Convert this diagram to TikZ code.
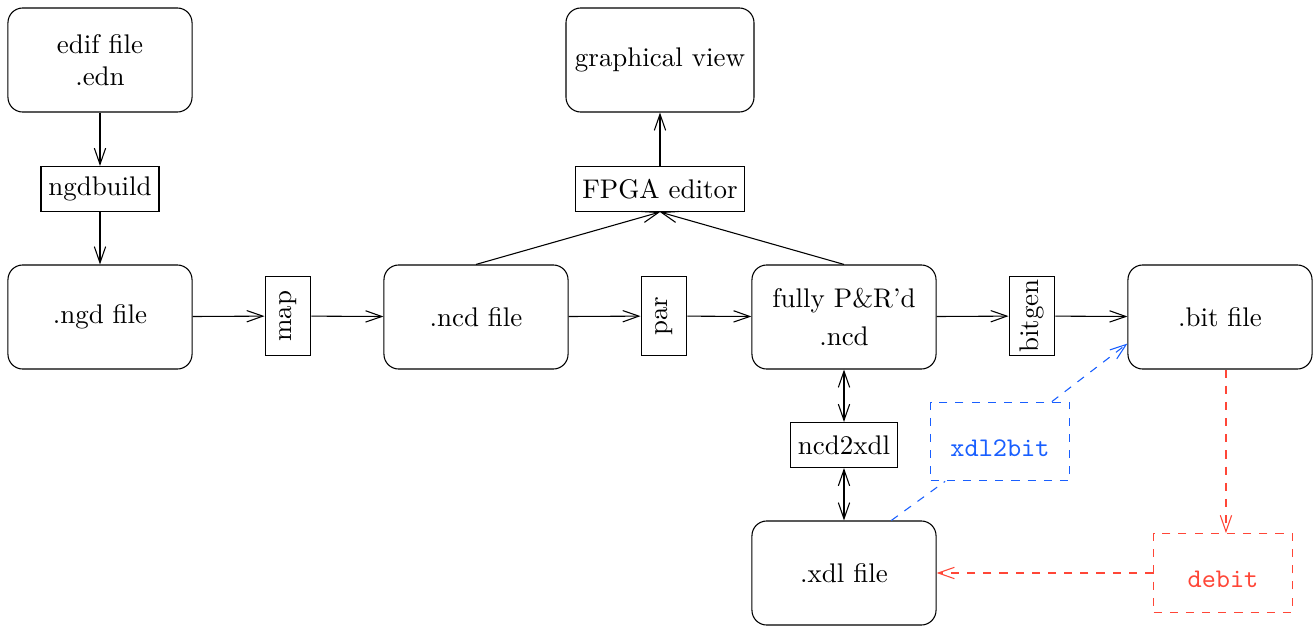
\documentclass[tikz,border=0pt]{standalone}
\usetikzlibrary{arrows.meta}
\definecolor{xblue}{RGB}{25,95,255}
\definecolor{xred}{RGB}{255,70,55}
\begin{document}
\begin{tikzpicture}[x=0.371pt,y=-0.371pt,
  >={Straight Barb[length=6pt,width=4.2pt]},
  filebox/.style={draw,rounded corners=5.5pt,minimum width=68.3pt,minimum height=38.6pt,align=center},
  toolbox/.style={draw,minimum height=16.7pt,inner xsep=2.7pt},
  rotbox/.style={draw,rotate=90,minimum width=29pt,minimum height=17pt,inner xsep=1pt},
  dashbox/.style={draw,dashed,minimum width=51.5pt,minimum height=29.2pt,text height=10.9pt,text depth=0pt,font=\ttfamily}]
\useasboundingbox (0,0) rectangle (1314,627);
\node[filebox] (edif) at (100,60) {edif file\\.edn};
\node[toolbox] (ngdbuild) at (100,189) {ngdbuild};
\node[filebox] (ngd) at (100,317) {.ngd file};
\node[rotbox] (map) at (288,316) {map};
\node[filebox] (ncd) at (476,317) {.ncd file};
\node[rotbox] (par) at (664,316) {par};
\node[filebox] (fully) at (844,317) {fully P\&R'd\\[2pt].ncd};
\node[rotbox] (bitgen) at (1032,316) {bitgen};
\node[filebox] (bit) at (1220,317) {.bit file};
\node[filebox] (gview) at (660,60) {graphical view};
\node[toolbox] (fpga) at (660,189) {FPGA editor};
\node[toolbox] (ncd2xdl) at (844,445) {ncd2xdl};
\node[filebox] (xdl) at (844,573) {.xdl file};
\node[dashbox,xblue,text=xblue] (xdl2bit) at (1000,441.5) {xdl2bit};
\node[dashbox,xred,text=xred] (debit) at (1223,573) {debit};
\coordinate (redtop) at ([xshift=1.1pt]debit.north);

\draw[->] (edif) -- (ngdbuild);
\draw[->] (ngdbuild) -- (ngd);
\draw[->] (ngd) -- (map);
\draw[->] (map) -- (ncd);
\draw[->] (ncd) -- (par);
\draw[->] (par) -- (fully);
\draw[->] (fully) -- (bitgen);
\draw[->] (bitgen) -- (bit);
\draw[->] (ncd.north) -- (fpga.south);
\draw[->] (fully.north) -- (fpga.south);
\draw[->] (fpga) -- (gview);
\draw[<->] (fully) -- (ncd2xdl);
\draw[<->] (ncd2xdl) -- (xdl);
\draw[->,dashed,xblue] (xdl.48) -- (xdl2bit) -- (bit.196);
\draw[->,dashed,xred] (redtop |- bit.south) -- (redtop);
\draw[->,dashed,xred] (debit) -- (xdl);
\end{tikzpicture}
\end{document}
